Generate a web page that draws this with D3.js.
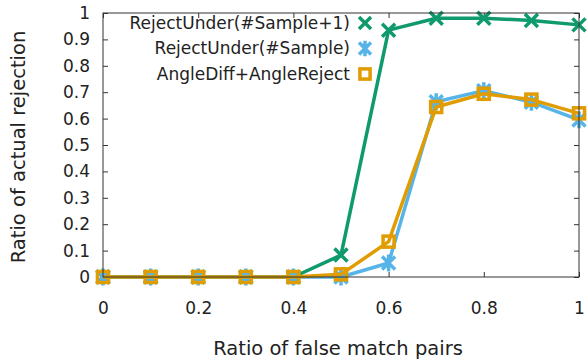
<!DOCTYPE html>
<html>
<head>
<meta charset="utf-8">
<script src="https://cdn.jsdelivr.net/npm/d3@7"></script>
<style>
  body { margin: 0; background: #fff; }
  svg text { font-family: "DejaVu Sans", Verdana, sans-serif; fill: #222; }
</style>
</head>
<body>
<div id="chart"></div>
<script>
// Ratio of false match pairs
var xValues = [0, 0.1, 0.2, 0.3, 0.4, 0.5, 0.6, 0.7, 0.8, 0.9, 1];
var rejectUnderPlus1 = [0, 0, 0, 0, 0, 0.083, 0.935, 0.98, 0.98, 0.972, 0.955];
var rejectUnder = [0, 0, 0, 0, 0, 0, 0.053, 0.664, 0.706, 0.662, 0.595];
var angleDiff = [0, 0, 0, 0, 0, 0.01, 0.134, 0.644, 0.694, 0.672, 0.62];
var xTicks = [0, 0.2, 0.4, 0.6, 0.8, 1];
var yTicks = [0, 0.1, 0.2, 0.3, 0.4, 0.5, 0.6, 0.7, 0.8, 0.9, 1];

var seriesNames = ["RejectUnder(#Sample+1)", "RejectUnder(#Sample)", "AngleDiff+AngleReject"];
var seriesValues = [rejectUnderPlus1, rejectUnder, angleDiff];
var seriesColors = ["#0f9a6e", "#56b4e9", "#e09c00"];
var seriesSymbols = ["cross", "star", "square"];

var width = 588, height = 362;
var margins = { top: 13, right: 9, bottom: 85, left: 103 };
var chartWidth = width - margins.left - margins.right;
var chartHeight = height - margins.top - margins.bottom;

var svg = d3.select("#chart").append("svg")
  .attr("width", width)
  .attr("height", height);

var chart = svg.append("g")
  .attr("transform", `translate(${margins.left},${margins.top})`);

var xScale = d3.scaleLinear().domain([0, 1]).range([0, chartWidth]);
var yScale = d3.scaleLinear().domain([0, 1]).range([chartHeight, 0]);

// Axes (gnuplot style: ticks inward, mirrored)
var tickLen = 5;
var xAxis = d3.axisBottom(xScale).tickValues(xTicks).tickSize(-tickLen).tickPadding(25)
  .tickFormat(d3.format("~g"));
var yAxis = d3.axisLeft(yScale).tickValues(yTicks).tickSize(-tickLen).tickPadding(13)
  .tickFormat(d3.format("~g"));

chart.append("g").attr("class", "x axis")
  .attr("transform", `translate(0,${chartHeight})`).call(xAxis);
chart.append("g").attr("class", "y axis").call(yAxis);
chart.append("g").attr("class", "x2 axis")
  .call(d3.axisTop(xScale).tickValues(xTicks).tickSize(-tickLen).tickFormat(""));
chart.append("g").attr("class", "y2 axis")
  .attr("transform", `translate(${chartWidth},0)`)
  .call(d3.axisRight(yScale).tickValues(yTicks).tickSize(-tickLen).tickFormat(""));

chart.selectAll(".axis .domain").remove();
chart.selectAll(".axis .tick line").attr("stroke", "#333");
chart.selectAll(".axis text").style("font-size", "17px").attr("fill", "#222");

// Marker drawing
function drawMarker(g, symbol, color, size) {
  var h = size / 2;
  if (symbol === "cross") {
    g.append("path").attr("d", `M${-h},${-h}L${h},${h}M${-h},${h}L${h},${-h}`)
      .attr("stroke", color).attr("stroke-width", 3.5).attr("fill", "none");
  } else if (symbol === "star") {
    g.append("path")
      .attr("d", `M${-h},${-h}L${h},${h}M${-h},${h}L${h},${-h}M0,${-h * 1.3}L0,${h * 1.3}`)
      .attr("stroke", color).attr("stroke-width", 3.5).attr("fill", "none");
  } else {
    g.append("rect").attr("x", -h * 0.85).attr("y", -h * 0.85)
      .attr("width", h * 1.7).attr("height", h * 1.7)
      .attr("stroke", color).attr("stroke-width", 3.5).attr("fill", "none");
  }
}

var line = d3.line()
  .x((d, i) => xScale(xValues[i]))
  .y((d) => yScale(d));

seriesValues.forEach(function (values, s) {
  var g = chart.append("g").attr("class", "series series-" + s);
  g.append("path")
    .datum(values)
    .attr("d", line)
    .attr("fill", "none")
    .attr("stroke", seriesColors[s])
    .attr("stroke-width", 3.5)
    .attr("stroke-linejoin", "round");

  g.selectAll(".pt")
    .data(values)
    .enter()
    .append("g")
    .attr("class", "pt")
    .attr("transform", (d, i) => `translate(${xScale(xValues[i])},${yScale(d)})`)
    .each(function () {
      drawMarker(d3.select(this), seriesSymbols[s], seriesColors[s], 13);
    });
});

// Frame
chart.append("rect")
  .attr("width", chartWidth)
  .attr("height", chartHeight)
  .attr("fill", "none")
  .attr("stroke", "#333")
  .attr("stroke-width", 1);

// Legend
var legend = chart.append("g").attr("class", "legend");
var legendRows = legend.selectAll("g")
  .data(seriesNames)
  .enter()
  .append("g")
  .attr("transform", (d, i) => `translate(0,${10 + 25.5 * i})`);

legendRows.append("text")
  .attr("x", 247)
  .attr("dy", "0.35em")
  .attr("text-anchor", "end")
  .style("font-size", "17px")
  .text((d) => d);

legendRows.each(function (d, i) {
  var m = d3.select(this).append("g").attr("transform", "translate(262,0)");
  drawMarker(m, seriesSymbols[i], seriesColors[i], 12);
});

// Axis titles
svg.append("text")
  .attr("x", margins.left + chartWidth / 2 - 3)
  .attr("y", 355)
  .attr("text-anchor", "middle")
  .style("font-size", "19.5px")
  .text("Ratio of false match pairs");

svg.append("text")
  .attr("transform", `translate(25,${margins.top + chartHeight / 2 + 2}) rotate(-90)`)
  .attr("text-anchor", "middle")
  .style("font-size", "19.5px")
  .text("Ratio of actual rejection");
</script>
</body>
</html>
